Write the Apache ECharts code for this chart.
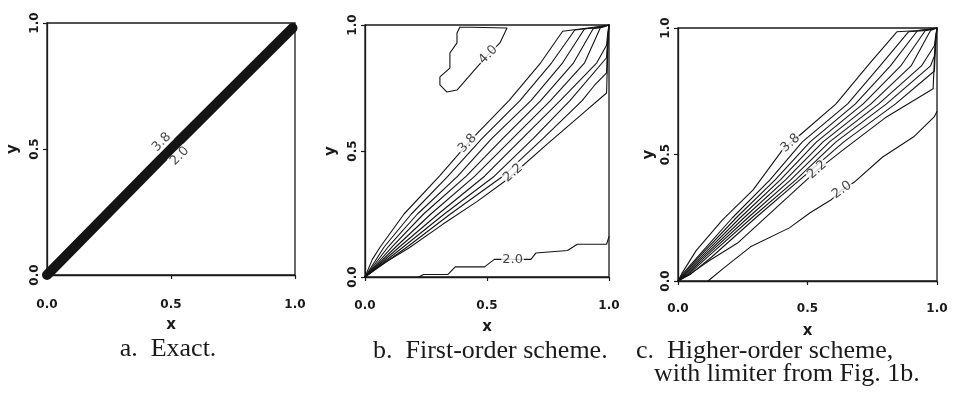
<!DOCTYPE html>
<html><head><meta charset="utf-8">
<script src="https://cdn.jsdelivr.net/npm/echarts@6/dist/echarts.min.js"></script>
<style>html,body{margin:0;padding:0;background:#fff}#c{width:973px;height:403px}</style>
</head><body><div id="c"></div>
<script>
// Tick labels
const tickValues = [0, 0.5, 1.0];
const captions = ['a.  Exact.', 'b.  First-order scheme.', 'c.  Higher-order scheme,', 'with limiter from Fig. 1b.'];

// Panel a: exact solution, all contours collapse onto the diagonal
const aBand = [[0, 0], [0.25, 0.25], [0.5, 0.5], [0.75, 0.745], [0.99, 0.98]];
const aLabels = [['3.8', 0.462, 0.527, 45], ['2.0', 0.535, 0.472, 45]];

// Panel b: first-order scheme contours (levels 3.8 .. 2.2)
const bLevels = ['3.8', '3.6', '3.4', '3.2', '3.0', '2.8', '2.6', '2.4', '2.2'];
const b38 = [[0,0],[0.03,0.07],[0.063,0.12],[0.16,0.25],[0.305,0.40],[0.44,0.55],[0.59,0.70],[0.72,0.85],[0.81,0.975],[0.93,0.99],[1,1]];
const b36 = [[0,0],[0.079,0.12],[0.19,0.25],[0.34,0.40],[0.48,0.55],[0.635,0.70],[0.765,0.85],[0.86,0.98],[0.95,0.99],[1,1]];
const b34 = [[0,0],[0.095,0.12],[0.215,0.25],[0.38,0.40],[0.52,0.55],[0.68,0.70],[0.81,0.85],[0.90,0.985],[0.96,0.99],[1,1]];
const b32 = [[0,0],[0.111,0.12],[0.24,0.25],[0.415,0.40],[0.565,0.55],[0.72,0.70],[0.855,0.85],[0.935,0.985],[0.97,0.99],[1,1]];
const b30 = [[0,0],[0.127,0.12],[0.27,0.25],[0.45,0.40],[0.605,0.55],[0.76,0.70],[0.90,0.85],[0.965,0.99],[1,1]];
const b28 = [[0,0],[0.142,0.12],[0.30,0.25],[0.49,0.40],[0.645,0.55],[0.80,0.70],[0.95,0.85],[0.99,0.92],[0.995,0.97],[1,1]];
const b26 = [[0,0],[0.158,0.12],[0.325,0.25],[0.53,0.40],[0.69,0.55],[0.84,0.70],[0.99,0.87],[0.995,0.95],[1,1]];
const b24 = [[0,0],[0.174,0.12],[0.35,0.25],[0.565,0.40],[0.73,0.55],[0.89,0.70],[0.94,0.76],[0.99,0.81],[0.995,0.93],[1,1]];
const b22 = [[0,0],[0.06,0.045],[0.18,0.115],[0.32,0.21],[0.46,0.30],[0.58,0.385],[0.75,0.53],[0.90,0.655],[0.99,0.73],[0.995,0.9],[1,1]];
const b20 = [[0.22,0],[0.24,0.01],[0.34,0.01],[0.37,0.04],[0.49,0.04],[0.53,0.07],[0.68,0.07],[0.70,0.095],[0.83,0.105],[0.87,0.13],[0.99,0.13],[1.0,0.16]];
const b40 = [[0.389,0.992],[0.582,0.988],[0.553,0.929],[0.504,0.881],[0.459,0.833],[0.377,0.742],[0.336,0.734],[0.307,0.762],[0.307,0.794],[0.348,0.829],[0.348,0.889],[0.377,0.929],[0.377,0.968],[0.389,0.992]];
const bLabels = [['4.0', 0.505, 0.882, 45], ['3.8', 0.42, 0.53, 47], ['2.2', 0.607, 0.413, 40], ['2.0', 0.605, 0.07, 0]];

// Panel c: higher-order scheme with limiter
const c38 = [[0,0],[0.015,0.03],[0.07,0.12],[0.17,0.24],[0.29,0.36],[0.405,0.52],[0.48,0.585],[0.61,0.70],[0.74,0.86],[0.845,0.985],[0.93,0.99],[1,1]];
const c36 = [[0,0],[0.02,0.03],[0.08,0.10],[0.21,0.25],[0.355,0.40],[0.48,0.55],[0.655,0.70],[0.78,0.85],[0.89,0.985],[0.96,0.99],[1,1]];
const c34 = [[0,0],[0.025,0.03],[0.086,0.10],[0.225,0.25],[0.375,0.40],[0.51,0.55],[0.685,0.70],[0.82,0.85],[0.925,0.99],[0.97,0.995],[1,1]];
const c32 = [[0,0],[0.03,0.03],[0.094,0.10],[0.24,0.25],[0.395,0.40],[0.535,0.55],[0.715,0.70],[0.86,0.85],[0.955,0.99],[1,1]];
const c30 = [[0,0],[0.035,0.03],[0.102,0.10],[0.255,0.25],[0.415,0.40],[0.56,0.55],[0.745,0.70],[0.90,0.85],[0.975,0.99],[1,1]];
const c28 = [[0,0],[0.04,0.03],[0.11,0.10],[0.27,0.25],[0.435,0.40],[0.585,0.55],[0.775,0.70],[0.94,0.85],[0.99,0.93],[0.995,0.97],[1,1]];
const c26 = [[0,0],[0.045,0.03],[0.12,0.10],[0.285,0.25],[0.455,0.40],[0.61,0.55],[0.805,0.70],[0.975,0.85],[0.99,0.89],[0.995,0.96],[1,1]];
const c24 = [[0,0],[0.05,0.028],[0.13,0.095],[0.30,0.25],[0.47,0.40],[0.64,0.55],[0.84,0.70],[0.99,0.83],[0.995,0.95],[1,1]];
const c22 = [[0,0],[0.05,0.03],[0.12,0.08],[0.23,0.15],[0.39,0.30],[0.54,0.44],[0.64,0.52],[0.80,0.645],[0.985,0.76],[0.99,0.88],[1,1]];
const c20 = [[0.116,0],[0.175,0.05],[0.28,0.135],[0.43,0.21],[0.51,0.27],[0.59,0.32],[0.633,0.36],[0.68,0.39],[0.79,0.49],[0.82,0.51],[0.91,0.57],[0.99,0.65],[1.0,0.67]];
const cLabels = [['3.8', 0.434, 0.545, 42], ['2.2', 0.537, 0.439, 41], ['2.0', 0.633, 0.36, 36]];

const grids = [
  {left: 47, top: 23, width: 248, height: 252},
  {left: 365, top: 25, width: 244, height: 252},
  {left: 678, top: 28, width: 259, height: 253}
];
const yNameGap = [26, 26, 21];
const xLabelMargin = [24, 23, 22];

const chart = echarts.init(document.getElementById('c'), null, {renderer: 'canvas'});
const tickFont = {fontFamily: 'DejaVu Sans', fontSize: 12, fontWeight: 'bold', color: '#1a1a1a'};
const nameFont = {fontFamily: 'DejaVu Sans', fontSize: 15, fontWeight: 'bold', color: '#1a1a1a'};
const fmt = v => tickValues.indexOf(v) >= 0 ? v.toFixed(1) : '';

const xAxes = grids.map((g, i) => ({
  type: 'value', gridIndex: i, min: 0, max: 1, interval: 0.5,
  name: 'x', nameLocation: 'middle', nameGap: 43, nameTextStyle: nameFont,
  axisLine: {show: true, lineStyle: {color: '#1a1a1a', width: 1.3}},
  axisTick: {show: true, inside: false, length: 4, lineStyle: {color: '#1a1a1a', width: 1.2}},
  axisLabel: Object.assign({margin: xLabelMargin[i], formatter: fmt, showMinLabel: true, showMaxLabel: true}, tickFont),
  splitLine: {show: false}
}));
const yAxes = grids.map((g, i) => ({
  type: 'value', gridIndex: i, min: 0, max: 1, interval: 0.5,
  name: 'y', nameLocation: 'middle', nameGap: yNameGap[i], nameRotate: 90, nameTextStyle: nameFont,
  axisLine: {show: true, lineStyle: {color: '#1a1a1a', width: 1.3}},
  axisTick: {show: true, inside: false, length: 4, lineStyle: {color: '#1a1a1a', width: 1.2}},
  axisLabel: Object.assign({margin: 6, rotate: 90, formatter: fmt, showMinLabel: true, showMaxLabel: true}, tickFont),
  splitLine: {show: false}
}));

const series = [];
function addLine(idx, data, width) {
  series.push({
    type: 'line', xAxisIndex: idx, yAxisIndex: idx, data: data,
    symbol: 'none', showSymbol: false, silent: true, z: 2,
    lineStyle: {color: '#141414', width: width || 1.1, cap: 'round', join: 'round'}
  });
}
function addLabels(idx, labels) {
  series.push({
    type: 'scatter', xAxisIndex: idx, yAxisIndex: idx, silent: true, z: 5,
    symbolSize: 1, itemStyle: {color: 'rgba(0,0,0,0)'},
    data: labels.map(l => ({
      value: [l[1], l[2]],
      label: {show: true, position: 'inside', formatter: l[0], rotate: l[3]}
    })),
    label: {show: true, fontFamily: 'DejaVu Sans', fontSize: 13, color: '#141414',
            backgroundColor: '#fff', padding: [0, 1]}
  });
}

addLine(0, aBand, 10);
addLabels(0, aLabels);
[b38, b36, b34, b32, b30, b28, b26, b24, b22, b20, b40].forEach(d => addLine(1, d));
addLabels(1, bLabels);
[c38, c36, c34, c32, c30, c28, c26, c24, c22, c20].forEach(d => addLine(2, d));
addLabels(2, cLabels);

const capFont = {fontFamily: 'Liberation Serif', fontSize: 26, fill: '#1a1a1a'};
const graphic = [
  {type: 'text', x: 168, y: 349, style: Object.assign({text: captions[0], textAlign: 'center', textVerticalAlign: 'middle'}, capFont)},
  {type: 'text', x: 373, y: 351, style: Object.assign({text: captions[1], textAlign: 'left', textVerticalAlign: 'middle'}, capFont)},
  {type: 'text', x: 636, y: 351, style: Object.assign({text: captions[2], textAlign: 'left', textVerticalAlign: 'middle'}, capFont)},
  {type: 'text', x: 654, y: 374, style: Object.assign({text: captions[3], textAlign: 'left', textVerticalAlign: 'middle'}, capFont)}
];

chart.setOption({
  animation: false,
  backgroundColor: '#fff',
  grid: grids.map(g => Object.assign({show: true, borderColor: '#1a1a1a', borderWidth: 1.3, backgroundColor: 'transparent'}, g)),
  xAxis: xAxes,
  yAxis: yAxes,
  series: series,
  graphic: graphic
});
</script></body></html>
